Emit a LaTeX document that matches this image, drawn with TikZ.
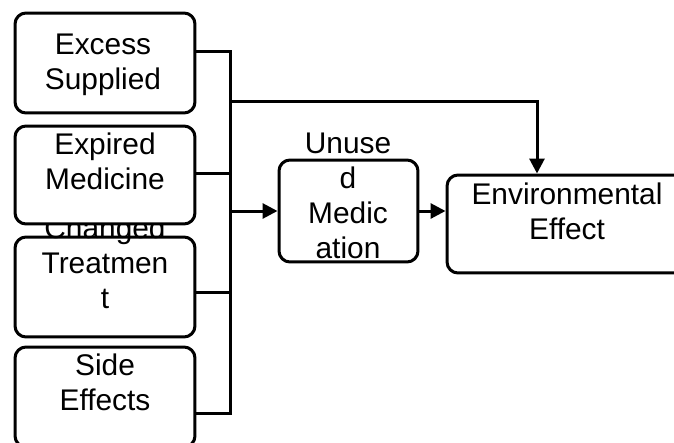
\documentclass[tikz,border=0pt]{standalone}
\usepackage{fontspec}
\setmainfont{Liberation Sans}
\usetikzlibrary{arrows.meta}
\begin{document}
\begin{tikzpicture}[x=0.02cm,y=-0.02cm,
  box/.style={draw=black,fill=white,rounded corners=0.22cm,line width=0.06cm,inner sep=0pt},
  txt/.style={align=center,font=\fontsize{17}{20}\selectfont,inner sep=0pt},
  wire/.style={black,line width=0.06cm},
  arr/.style={wire,-{Triangle[length=0.3cm,width=0.3cm]}}]
\useasboundingbox (0,0) rectangle (674,443);

\node[box,minimum width=3.6cm,minimum height=2cm] (excess) at (105,63) {};
\node[txt] (excesstxt) at (103,65) {Excess\\Supplied};
\node[box,minimum width=3.6cm,minimum height=2cm] (changed) at (105,287) {};
\node[txt] (changedtxt) at (105,263) {Changed\\Treatmen\\t};
\node[box,minimum width=3.6cm,minimum height=1.96cm] (expired) at (105,175) {};
\node[txt] (expiredtxt) at (105,161) {Expired\\Medicine};
\node[box,minimum width=3.6cm,minimum height=2cm] (side) at (105,397) {};
\node[txt] (sidetxt) at (105,382) {Side\\Effects};

\node[box,minimum width=2.78cm,minimum height=2.04cm] (unused) at (348.5,211) {};
\node[txt] (unusedtxt) at (348,196) {Unuse\\d\\Medic\\ation};
\node[box,minimum width=5.2cm,minimum height=1.96cm] (env) at (577,224) {};
\node[txt] (envtxt) at (567,211) {Environmental\\Effect};

\coordinate (bustop) at (230,51);
\coordinate (busbot) at (230,413);
\coordinate (jexp) at (230,173);
\coordinate (jchg) at (230,292);
\coordinate (jtop) at (230,101);
\coordinate (jmid) at (230,211);
\coordinate (bend) at (537,101);

\draw[wire] (excess.east |- bustop) -- (bustop) -- (busbot) -- (side.east |- busbot);
\draw[wire] (expired.east |- jexp) -- (jexp);
\draw[wire] (changed.east |- jchg) -- (jchg);
\draw[arr] (jtop) -- (bend) -- (bend |- env.north);
\draw[arr] (jmid) -- (unused.west);
\draw[arr] (unused.east) -- (env.west |- unused.east);
\end{tikzpicture}
\end{document}
